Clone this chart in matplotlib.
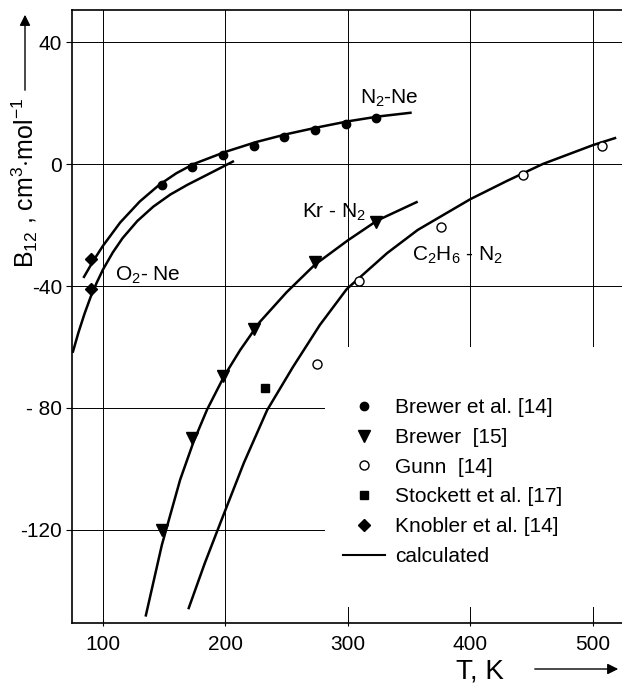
import matplotlib
matplotlib.use("Agg")
import matplotlib.pyplot as plt
from matplotlib.lines import Line2D
from matplotlib.patches import Rectangle

plt.rcParams['font.family'] = ['Liberation Sans', 'DejaVu Sans']
plt.rcParams['mathtext.fontset'] = 'custom'
plt.rcParams['mathtext.rm'] = 'Liberation Sans'
plt.rcParams['mathtext.it'] = 'Liberation Sans:italic'

# measured second virial cross coefficients (T in K, B12 in cm3/mol)
brewer_n2ne_T = [148, 173, 198, 223, 248, 273, 298, 323]
brewer_n2ne_B = [-7, -1, 3, 6, 9, 11, 13, 15]
brewer_krn2_T = [148, 173, 198, 223, 273, 323]
brewer_krn2_B = [-120, -90, -69.5, -54, -32, -19]
gunn_T = [275, 309, 376, 443, 507]
gunn_B = [-65.5, -38.5, -20.5, -3.5, 6]
stockett_T = [232]
stockett_B = [-73.5]
knobler_T = [90, 90]
knobler_B = [-31, -41]

# calculated curves
n2ne_T = [84.5, 92, 100, 114, 130, 146, 160, 174, 200, 225, 250, 275, 300, 325, 351]
n2ne_B = [-37, -31.8, -26.8, -19.2, -12.3, -6.8, -3, 0, 4, 7.2, 9.8, 12, 14, 15.6, 16.8]
o2ne_T = [75.5, 80, 85, 90, 95, 100, 108, 116, 128, 141, 155, 169, 190, 206]
o2ne_B = [-61.5, -55.2, -49, -43.5, -38.8, -34.6, -29, -24.3, -18.7, -14, -10, -6.8, -2.5, 0.8]
krn2_T = [135, 148, 163, 174, 185, 199, 212, 228, 250, 273, 300, 324, 356]
krn2_B = [-148, -125, -103.5, -91, -80.5, -69.5, -61, -51.8, -42, -33, -25, -18.5, -12.5]
c2h6n2_T = [170, 183, 196, 215, 234, 255, 277, 299, 332, 357, 400, 430, 459, 500, 518]
c2h6n2_B = [-145.6, -131, -117.5, -98, -80.7, -66.6, -52.8, -41, -29.2, -21.6, -11.5, -5.5, 0, 6.2, 8.5]

x_ticks = [100, 200, 300, 400, 500]
y_ticks = [-120, -80, -40, 0, 40]
y_tick_labels = ['-120', '- 80', '-40', '0', '40']

fig = plt.figure(figsize=(6.22, 6.86), dpi=100)
ax = fig.add_axes([72 / 622, 63 / 686, 550 / 622, 613 / 686])

ax.set_xlim(74.7, 523.7)
ax.set_ylim(-150.5, 50.5)
ax.set_xticks(x_ticks)
ax.set_yticks(y_ticks)
ax.set_yticklabels(y_tick_labels)
ax.tick_params(labelsize=15, width=0.8, color='k')
ax.tick_params(axis='y', direction='out', length=4, pad=3)
ax.tick_params(axis='x', direction='inout', length=5, pad=6)
ax.grid(True, color='k', linewidth=0.7)
for side in ['left', 'bottom', 'top']:
    ax.spines[side].set_linewidth(1.2)
ax.spines['right'].set_visible(False)

# white area behind the key
ax.add_patch(Rectangle((0.46, 0.026), 0.54, 0.424, transform=ax.transAxes,
                       facecolor='white', edgecolor='none', zorder=1.8))

lw = 1.8
ax.plot(n2ne_T, n2ne_B, color='k', lw=lw, zorder=3)
ax.plot(o2ne_T, o2ne_B, color='k', lw=lw, zorder=3)
ax.plot(krn2_T, krn2_B, color='k', lw=lw, zorder=3)
ax.plot(c2h6n2_T, c2h6n2_B, color='k', lw=lw, zorder=3)

ax.plot(brewer_n2ne_T, brewer_n2ne_B, 'o', color='k', ms=6, zorder=4)
ax.plot(brewer_krn2_T, brewer_krn2_B, 'v', color='k', ms=8, zorder=4)
ax.plot(gunn_T, gunn_B, 'o', mfc='white', mec='k', mew=1, ms=6.5, zorder=4)
ax.plot(stockett_T, stockett_B, 's', color='k', ms=6, zorder=4)
ax.plot(knobler_T, knobler_B, 'D', color='k', ms=6.5, zorder=4)

# curve labels
ax.text(309.8, 21.6, 'N$_2$-Ne', fontsize=15, va='center', ha='left')
ax.text(109.8, -36.4, 'O$_2$- Ne', fontsize=15, va='center', ha='left')
ax.text(262.4, -15.7, 'Kr - N$_2$', fontsize=15, va='center', ha='left')
ax.text(352.2, -29.8, 'C$_2$H$_6$ - N$_2$', fontsize=15, va='center', ha='left')

handles = [
    Line2D([], [], marker='o', ls='none', color='k', ms=6),
    Line2D([], [], marker='v', ls='none', color='k', ms=8),
    Line2D([], [], marker='o', ls='none', mfc='white', mec='k', mew=1, ms=6.5),
    Line2D([], [], marker='s', ls='none', color='k', ms=6),
    Line2D([], [], marker='D', ls='none', color='k', ms=6.5),
    Line2D([], [], color='k', lw=1.5),
]
labels = ['Brewer et al. [14]', 'Brewer  [15]', 'Gunn  [14]',
          'Stockett et al. [17]', 'Knobler et al. [14]', 'calculated']
leg = ax.legend(handles, labels, loc='upper left',
                bbox_to_anchor=((343 - 72) / 550, (623 - 398) / 613),
                frameon=False, fontsize=15, borderpad=0, borderaxespad=0,
                handlelength=2.0, handletextpad=0.5, labelspacing=0.52)
leg.set_zorder(5)

# axis titles with arrows
fig.text(25 / 622, 1 - 183 / 686, r'B$_{12}$ , cm$^3$$\cdot$mol$^{-1}$',
         rotation=90, ha='center', va='center', fontsize=18)
ax.annotate('', xy=(25 / 622, 1 - 12 / 686), xytext=(25 / 622, 1 - 93 / 686),
            xycoords='figure fraction', textcoords='figure fraction',
            arrowprops=dict(arrowstyle='-|>', color='k', lw=1.0, mutation_scale=16))
fig.text(480 / 622, 1 - 671 / 686, 'T, K', ha='center', va='center', fontsize=20)
ax.annotate('', xy=(621 / 622, 1 - 669 / 686), xytext=(532 / 622, 1 - 669 / 686),
            xycoords='figure fraction', textcoords='figure fraction',
            arrowprops=dict(arrowstyle='-|>', color='k', lw=1.0, mutation_scale=16))

fig.savefig('out.png', dpi=100)
